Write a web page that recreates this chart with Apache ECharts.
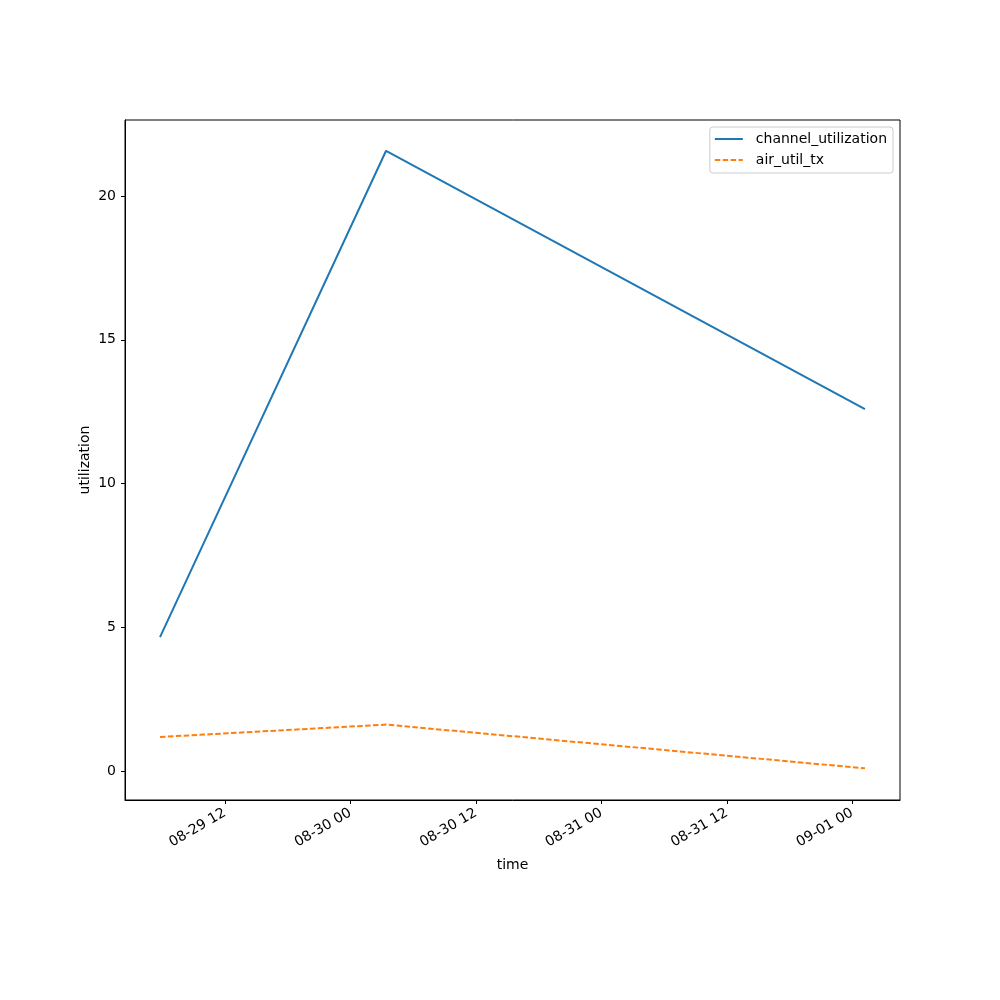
<!DOCTYPE html>
<html>
<head>
<meta charset="utf-8">
<script src="https://cdn.jsdelivr.net/npm/echarts@6/dist/echarts.min.js"></script>
<style>
  html, body { margin: 0; padding: 0; background: #fff; }
  #chart { width: 1000px; height: 1000px; }
</style>
</head>
<body>
<div id="chart"></div>
<script>
// 采样时间 (本地时间)
const times = ['2024-08-29 05:48', '2024-08-30 03:25', '2024-09-01 01:13'];
const channelUtilization = [4.67, 21.57, 12.59];
const airUtilTx = [1.2, 1.63, 0.11];
const seriesNames = ['channel_utilization', 'air_util_tx'];

// x 轴以 12 小时为单位, 0 = 08-30 00:00
const HALF_DAY = 12 * 3600 * 1000;
const origin = new Date('2024-08-30T00:00:00').getTime();
const xStart = '2024-08-29 02:27';
const xEnd = '2024-09-01 04:34';

function toUnit(t) {
    return (new Date(t.replace(' ', 'T') + ':00').getTime() - origin) / HALF_DAY;
}

function toPairs(vals) {
    return times.map((t, i) => [toUnit(t), vals[i]]);
}

function pad(n) {
    return (n < 10 ? '0' : '') + n;
}

const chart = echarts.init(document.getElementById('chart'));
const font = 'DejaVu Sans';

chart.setOption({
    animation: false,
    textStyle: { fontFamily: font },
    grid: {
        left: 125,
        right: 100,
        top: 120,
        bottom: 200,
        show: true,
        borderColor: '#000',
        borderWidth: 1,
        containLabel: false,
    },
    legend: {
        right: 107,
        top: 127,
        orient: 'vertical',
        itemWidth: 28,
        itemHeight: 14,
        itemGap: 7,
        padding: [5, 6, 6, 4],
        borderColor: '#cccccc',
        borderWidth: 1,
        borderRadius: 3,
        itemStyle: { opacity: 0 },
        textStyle: { fontSize: 14, color: '#000', fontFamily: font, padding: [0, 0, 0, 8] },
        data: seriesNames,
    },
    xAxis: {
        type: 'value',
        min: toUnit(xStart),
        max: toUnit(xEnd),
        minInterval: 1,
        maxInterval: 1,
        name: 'time',
        nameLocation: 'middle',
        nameGap: 58,
        nameMoveOverlap: false,
        nameTextStyle: { fontSize: 14, color: '#000' },
        axisLine: { onZero: false, lineStyle: { color: '#000', width: 1 } },
        axisTick: { inside: false, length: 4, lineStyle: { color: '#000' } },
        splitLine: { show: false },
        axisLabel: {
            rotate: 30,
            fontSize: 14,
            color: '#000',
            margin: 12,
            showMinLabel: false,
            showMaxLabel: false,
            formatter: function (v) {
                const d = new Date(origin + v * HALF_DAY);
                return pad(d.getMonth() + 1) + '-' + pad(d.getDate()) + ' ' + pad(d.getHours());
            },
        },
    },
    yAxis: {
        type: 'value',
        min: -0.99,
        max: 22.64,
        splitNumber: 5,
        name: 'utilization',
        nameLocation: 'middle',
        nameGap: 33,
        nameMoveOverlap: false,
        nameTextStyle: { fontSize: 14, color: '#000' },
        axisLine: { show: true, onZero: false, lineStyle: { color: '#000', width: 1 } },
        axisTick: { show: true, length: 4, lineStyle: { color: '#000' } },
        splitLine: { show: false },
        axisLabel: {
            fontSize: 14,
            color: '#000',
            margin: 9,
            showMinLabel: false,
            showMaxLabel: false,
        },
    },
    series: [
        {
            name: seriesNames[0],
            type: 'line',
            data: toPairs(channelUtilization),
            symbol: 'none',
            color: '#1f77b4',
            lineStyle: { color: '#1f77b4', width: 2 },
        },
        {
            name: seriesNames[1],
            type: 'line',
            data: toPairs(airUtilTx),
            symbol: 'none',
            color: '#ff7f0e',
            lineStyle: { color: '#ff7f0e', width: 2, type: [5.5, 2.4] },
        },
    ],
});
</script>
</body>
</html>
